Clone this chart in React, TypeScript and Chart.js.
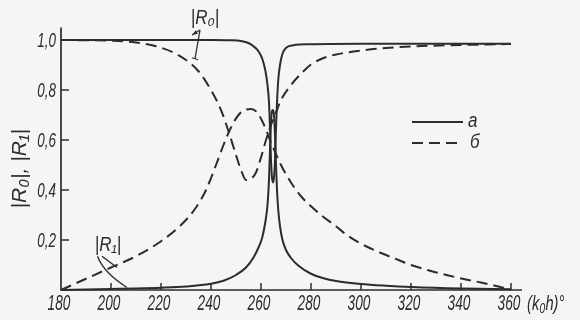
import React, { useEffect, useRef } from 'react';
import { Chart, registerables } from 'chart.js';

Chart.register(...registerables);

// ---- data ----
const xTicks = [180, 200, 220, 240, 260, 280, 300, 320, 340, 360];
const yTicks = [0.2, 0.4, 0.6, 0.8, 1.0];
const xMin = 180;
const xMax = 364.4;
const yMin = 0;
const yMax = 1.05;

// curve "а" (solid): |R0|
const r0aX = [180, 200, 220, 240, 248, 252, 255, 257, 259, 260.5, 261.7, 262.6, 263.2, 263.6, 264.0, 264.4, 264.8, 265.2, 265.6, 266.0, 266.4, 266.9, 267.6, 268.6, 270.2, 273, 280, 300, 330, 360];
const r0aY = [1, 1, 1, 1, 0.999, 0.996, 0.988, 0.975, 0.955, 0.925, 0.88, 0.82, 0.75, 0.65, 0.52, 0.45, 0.43, 0.45, 0.52, 0.65, 0.75, 0.84, 0.9, 0.945, 0.97, 0.979, 0.983, 0.985, 0.985, 0.985];

// curve "а" (solid): |R1|
const r1aX = [180, 190, 200, 210, 220, 230, 240, 245, 250, 254, 257, 259, 260.5, 261.7, 262.6, 263.2, 263.6, 264.0, 264.4, 264.8, 265.2, 265.6, 266.0, 266.4, 266.9, 267.6, 268.6, 270, 272, 275, 280, 285, 290, 300, 310, 320, 340, 360];
const r1aY = [0, 0.002, 0.004, 0.006, 0.009, 0.014, 0.025, 0.037, 0.06, 0.09, 0.13, 0.17, 0.21, 0.27, 0.34, 0.44, 0.56, 0.67, 0.715, 0.72, 0.7, 0.62, 0.5, 0.4, 0.32, 0.255, 0.2, 0.16, 0.128, 0.097, 0.065, 0.047, 0.036, 0.024, 0.017, 0.012, 0.006, 0.003];

// curve "б" (dashed): |R0|
const r0bX = [180, 190, 200, 210, 218, 225, 230, 235, 240, 244, 247, 250, 252, 254, 256, 258, 260, 262, 264, 266, 268, 272, 276, 280, 285, 290, 300, 310, 320, 335, 350, 360];
const r0bY = [1.0, 0.999, 0.997, 0.99, 0.975, 0.95, 0.92, 0.875, 0.8, 0.72, 0.635, 0.54, 0.48, 0.44, 0.445, 0.47, 0.53, 0.6, 0.66, 0.71, 0.76, 0.82, 0.865, 0.902, 0.928, 0.942, 0.958, 0.968, 0.974, 0.979, 0.982, 0.984];

// curve "б" (dashed): |R1|
const r1bX = [180, 190, 200, 210, 220, 228, 234, 238, 242, 245, 248, 251, 254, 256, 258, 261, 264, 268, 272, 276, 280, 285, 290, 295, 302, 308, 315, 320, 328, 335, 342, 348, 355, 360];
const r1bY = [0.0, 0.045, 0.09, 0.135, 0.195, 0.26, 0.33, 0.4, 0.5, 0.58, 0.65, 0.7, 0.722, 0.724, 0.715, 0.665, 0.59, 0.5, 0.43, 0.375, 0.335, 0.292, 0.255, 0.215, 0.175, 0.148, 0.12, 0.1, 0.076, 0.058, 0.042, 0.03, 0.014, 0.0];

const legendLabels = ['а', 'б'];
const yAxisTitle = '|R₀|, |R₁|';
const xUnitLabel = '(k₀h)°';
const r0Label = '|R₀|';
const r1Label = '|R₁|';

// ---- styling ----
const INK = '#2c2c2c';
const BG = '#f5f5f3';
const FONT = "'Liberation Sans', 'DejaVu Sans', sans-serif";

const toPoints = (xs: number[], ys: number[]) => xs.map((x, i) => ({ x, y: ys[i] }));

function txt(
  ctx: CanvasRenderingContext2D,
  text: string,
  x: number,
  y: number,
  size: number,
  sx: number,
  align: CanvasTextAlign,
  rot = 0
) {
  ctx.save();
  ctx.translate(x, y);
  if (rot) ctx.rotate(rot);
  ctx.scale(sx, 1);
  ctx.font = `italic ${size}px ${FONT}`;
  ctx.textAlign = align;
  ctx.textBaseline = 'middle';
  ctx.fillStyle = INK;
  ctx.fillText(text, 0, 0);
  ctx.restore();
}

function seg(ctx: CanvasRenderingContext2D, x1: number, y1: number, x2: number, y2: number, w = 1.4) {
  ctx.save();
  ctx.strokeStyle = INK;
  ctx.lineWidth = w;
  ctx.beginPath();
  ctx.moveTo(x1, y1);
  ctx.lineTo(x2, y2);
  ctx.stroke();
  ctx.restore();
}

const fmt = (v: number) => v.toFixed(1).replace('.', ',');

const decorPlugin = {
  id: 'decor',
  beforeDraw(chart: any) {
    const { ctx, width, height } = chart;
    ctx.save();
    ctx.fillStyle = BG;
    ctx.fillRect(0, 0, width, height);
    ctx.restore();
  },
  afterDraw(chart: any) {
    const { ctx, chartArea } = chart;
    const xs = chart.scales.x;
    const ys = chart.scales.y;
    const X = (v: number) => xs.getPixelForValue(v);
    const Y = (v: number) => ys.getPixelForValue(v);
    const { left, right, top, bottom } = chartArea;

    // axes
    ctx.save();
    ctx.strokeStyle = INK;
    ctx.lineWidth = 1.7;
    ctx.beginPath();
    ctx.moveTo(left, top);
    ctx.lineTo(left, bottom);
    ctx.lineTo(right, bottom);
    ctx.stroke();
    ctx.restore();

    // y ticks and labels
    yTicks.forEach((v) => {
      const py = Y(v);
      seg(ctx, left, py, left + 8, py, 1.5);
      txt(ctx, fmt(v), left - 5, py + 1, 21, 0.64, 'right');
    });
    // x ticks and labels
    xTicks.forEach((v) => {
      const px = X(v);
      if (v !== xTicks[0]) seg(ctx, px, bottom, px, bottom - 7, 1.5);
      txt(ctx, String(v), px - 2, bottom + 14, 22, 0.62, 'center');
    });
    txt(ctx, xUnitLabel, right + 5, bottom + 14, 21, 0.7, 'left');

    // y axis title (rotated)
    ctx.save();
    ctx.font = `italic 21px ${FONT}`;
    const w = ctx.measureText(yAxisTitle).width;
    ctx.restore();
    const sx = Math.min(1, 84 / w);
    txt(ctx, yAxisTitle, left - 41, (top + bottom) / 2 + 10, 21, sx, 'center', -Math.PI / 2);

    // legend
    const lx1 = X(320.4);
    const lx2 = X(340.8);
    const ly1 = Y(0.672);
    const ly2 = Y(0.588);
    ctx.save();
    ctx.strokeStyle = INK;
    ctx.lineWidth = 2;
    ctx.beginPath();
    ctx.moveTo(lx1, ly1);
    ctx.lineTo(lx2, ly1);
    ctx.stroke();
    ctx.setLineDash([11, 6]);
    ctx.beginPath();
    ctx.moveTo(lx1, ly2);
    ctx.lineTo(lx2, ly2);
    ctx.stroke();
    ctx.restore();
    txt(ctx, legendLabels[0], lx2 + 5, ly1 - 1, 20, 0.85, 'left');
    txt(ctx, legendLabels[1], lx2 + 7, ly2 - 1, 20, 0.85, 'left');

    // |R0| label with leader lines
    txt(ctx, r0Label, X(237.6), Y(1.085), 20, 0.85, 'center');
    const ax = X(235.6), ay = Y(1.04);
    const e1x = X(232.4), e1y = Y(1.02);
    seg(ctx, ax, ay, e1x, e1y, 1.3);
    ctx.save();
    ctx.fillStyle = INK;
    const ang = Math.atan2(e1y - ay, e1x - ax);
    ctx.beginPath();
    ctx.moveTo(e1x, e1y);
    ctx.lineTo(e1x - 6 * Math.cos(ang - 0.35), e1y - 6 * Math.sin(ang - 0.35));
    ctx.lineTo(e1x - 6 * Math.cos(ang + 0.35), e1y - 6 * Math.sin(ang + 0.35));
    ctx.closePath();
    ctx.fill();
    ctx.restore();
    const e2x = X(233.6), e2y = Y(0.925);
    seg(ctx, ax, ay, e2x, e2y, 1.3);
    seg(ctx, e2x - 3, e2y - 1, e2x + 3, e2y + 1, 1.3);

    // |R1| label with leader lines
    txt(ctx, r1Label, X(198.8), Y(0.18), 20, 0.85, 'center');
    ctx.save();
    ctx.strokeStyle = INK;
    ctx.lineWidth = 1.3;
    ctx.beginPath();
    ctx.moveTo(X(194.6), Y(0.135));
    ctx.quadraticCurveTo(X(197), Y(0.07), X(206.4), Y(0.01));
    ctx.stroke();
    ctx.beginPath();
    ctx.moveTo(X(196.4), Y(0.135));
    ctx.lineTo(X(202.4), Y(0.09));
    ctx.stroke();
    ctx.restore();
  },
};

export default function App() {
  const ref = useRef<HTMLCanvasElement | null>(null);

  useEffect(() => {
    if (!ref.current) return;
    const common = {
      borderColor: INK,
      borderWidth: 2,
      pointRadius: 0,
      fill: false,
      cubicInterpolationMode: 'monotone' as const,
      clip: false as any,
    };
    const chart = new Chart(ref.current, {
      type: 'line',
      data: {
        datasets: [
          { ...common, label: '|R0| а', data: toPoints(r0aX, r0aY) },
          { ...common, label: '|R1| а', data: toPoints(r1aX, r1aY) },
          { ...common, label: '|R0| б', data: toPoints(r0bX, r0bY), borderDash: [11, 6] },
          { ...common, label: '|R1| б', data: toPoints(r1bX, r1bY), borderDash: [11, 6] },
        ],
      },
      options: {
        animation: false,
        responsive: false,
        maintainAspectRatio: false,
        layout: { padding: { left: 61, right: 58, top: 27.5, bottom: 30 } },
        plugins: { legend: { display: false }, tooltip: { enabled: false } },
        scales: {
          x: { type: 'linear', min: xMin, max: xMax, display: false },
          y: { type: 'linear', min: yMin, max: yMax, display: false },
        },
      },
      plugins: [decorPlugin],
    });
    return () => chart.destroy();
  }, []);

  return (
    <div style={{ position: 'absolute', left: 0, top: 0, width: 580, height: 320, background: BG }}>
      <canvas ref={ref} width={580} height={320} style={{ width: 580, height: 320, display: 'block' }} />
    </div>
  );
}
